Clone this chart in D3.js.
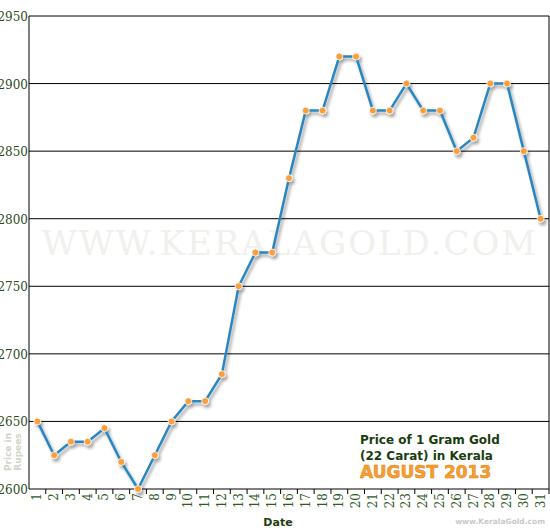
<!DOCTYPE html>
<html><head><meta charset="utf-8">
<script src="https://cdn.jsdelivr.net/npm/d3@7"></script>
<style>body{margin:0;background:#fff}</style>
</head><body>
<svg id="chart" width="550" height="530"></svg>
<script>
// Gold price data, August 2013
const days = d3.range(1, 32);
const prices = [2650,2625,2635,2635,2645,2620,2600,2625,2650,2665,2665,2685,2750,2775,2775,2830,
  2880,2880,2920,2920,2880,2880,2900,2880,2880,2850,2860,2900,2900,2850,2800];
const yTicks = [2600,2650,2700,2750,2800,2850,2900,2950];

const svg = d3.select('#chart');
const plotLeft = 29, plotRight = 549, plotTop = 16, plotBottom = 489;

const x = d3.scaleBand().domain(days).range([plotLeft, plotRight]);
const y = d3.scaleLinear().domain([2600, 2950]).range([plotBottom, plotTop]);

// watermark
svg.append('text').attr('x', 290).attr('y', 255).attr('text-anchor', 'middle')
  .attr('font-family', 'DejaVu Serif').attr('font-size', 34).attr('fill', '#f0f0ec')
  .attr('letter-spacing', 2).text('WWW.KERALAGOLD.COM');

// grid lines
svg.append('g').selectAll('line').data(yTicks).enter().append('line')
  .attr('x1', plotLeft).attr('x2', plotRight).attr('y1', d => y(d)).attr('y2', d => y(d))
  .attr('stroke', '#000').attr('stroke-width', 1);

// frame
svg.append('line').attr('x1', plotLeft).attr('x2', plotLeft).attr('y1', plotTop).attr('y2', plotBottom).attr('stroke', '#000');
svg.append('line').attr('x1', plotRight).attr('x2', plotRight).attr('y1', plotTop).attr('y2', plotBottom).attr('stroke', '#000');

// y labels
svg.append('g').selectAll('text').data(yTicks).enter().append('text')
  .attr('x', 28).attr('y', d => y(d) + 5).attr('text-anchor', 'end')
  .attr('font-family', 'DejaVu Serif').attr('font-size', 12).attr('fill', '#2d4a1e')
  .text(d => d);

// x ticks between days
svg.append('g').selectAll('line').data(days).enter().append('line')
  .attr('x1', d => x(d) + x.bandwidth()).attr('x2', d => x(d) + x.bandwidth())
  .attr('y1', plotBottom).attr('y2', plotBottom + 5).attr('stroke', '#000');

// x labels rotated
svg.append('g').selectAll('text').data(days).enter().append('text')
  .attr('transform', d => `translate(${x(d) + x.bandwidth() / 2 + 4},${plotBottom + 4}) rotate(-90)`)
  .attr('text-anchor', 'end')
  .attr('font-family', 'DejaVu Serif').attr('font-size', 12).attr('fill', '#2d5a1e')
  .text(d => d);

svg.append('text').attr('x', 278).attr('y', 526).attr('text-anchor', 'middle')
  .attr('font-family', 'Verdana, DejaVu Sans').attr('font-weight', 'bold').attr('font-size', 11)
  .attr('fill', '#1f3d14').text('Date');

svg.append('text').attr('x', 545).attr('y', 524).attr('text-anchor', 'end')
  .attr('font-family', 'DejaVu Sans').attr('font-weight', 'bold').attr('font-size', 7.5)
  .attr('fill', '#c8c8c8').text('www.KeralaGold.com');

// y axis title
const yt = svg.append('text').attr('transform', 'translate(14,452) rotate(-90)')
  .attr('text-anchor', 'middle').attr('font-family', 'DejaVu Sans').attr('font-weight', 'bold')
  .attr('font-size', 9).attr('fill', '#cfd5cb');
yt.append('tspan').attr('x', 0).attr('dy', -3).text('Price in');
yt.append('tspan').attr('x', 0).attr('dy', 10).text('Rupees');

// legend text
const lg = svg.append('g').attr('font-family', 'DejaVu Sans').attr('font-weight', 'bold');
lg.append('text').attr('x', 360).attr('y', 444).attr('font-size', 12).attr('fill', '#1a3d10').text('Price of 1 Gram Gold');
lg.append('text').attr('x', 360).attr('y', 460).attr('font-size', 12).attr('fill', '#1a3d10').text('(22 Carat) in Kerala');
lg.append('text').attr('x', 360).attr('y', 478).attr('font-size', 17).attr('fill', '#f7a030')
  .attr('stroke', '#e07a10').attr('stroke-width', 0.5).text('AUGUST 2013');

// shadow filter
const defs = svg.append('defs');
const f = defs.append('filter').attr('id', 'sh').attr('x', '-10%').attr('y', '-10%').attr('width', '130%').attr('height', '130%');
f.append('feDropShadow').attr('dx', 2).attr('dy', 3).attr('stdDeviation', 1.5).attr('flood-color', '#000').attr('flood-opacity', 0.35);

const cx = d => x(d) + x.bandwidth() / 2;
const line = d3.line().x((d, i) => cx(days[i])).y(d => y(d));

const g = svg.append('g').attr('filter', 'url(#sh)');
g.append('path').datum(prices).attr('d', line).attr('fill', 'none')
  .attr('stroke', '#2a86c0').attr('stroke-width', 2.5);
g.selectAll('circle').data(prices).enter().append('circle')
  .attr('cx', (d, i) => cx(days[i])).attr('cy', d => y(d)).attr('r', 3.5)
  .attr('fill', '#f8a040').attr('stroke', '#fff').attr('stroke-width', 0.8);
</script>
</body></html>
